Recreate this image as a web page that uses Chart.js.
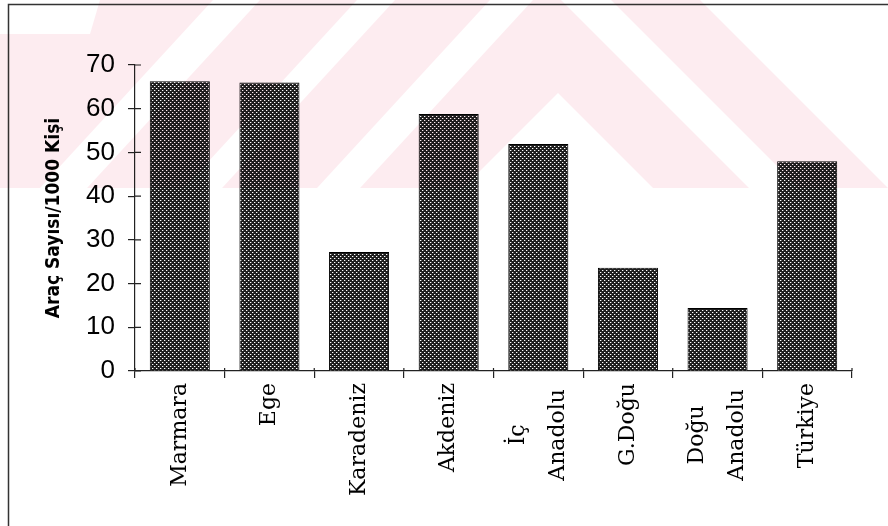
<!DOCTYPE html>
<html lang="tr">
<head>
<meta charset="UTF-8">
<title>Araç Sayısı / 1000 Kişi</title>
<style>
  html, body { margin: 0; padding: 0; background: #fff; }
  #wrap { width: 888px; height: 526px; }
</style>
</head>
<body>
<div id="wrap"><canvas id="myChart"></canvas></div>

<script src="https://cdn.jsdelivr.net/npm/chart.js"></script>
<script>
// bölgeler ve 1000 kişiye düşen araç sayısı
const regions = ['Marmara', 'Ege', 'Karadeniz', 'Akdeniz', ['İç', 'Anadolu'], 'G.Doğu', ['Doğu', 'Anadolu'], 'Türkiye'];
const carsPer1000 = [66.3, 66.0, 27.2, 58.8, 51.9, 23.6, 14.4, 48.0];
const yTicks = [0, 10, 20, 30, 40, 50, 60, 70];
const yTitle = 'Araç Sayısı/1000 Kişi';

// noktalı (tarama) çubuk dolgusu
function dotPattern() {
  const c = document.createElement('canvas');
  c.width = 4; c.height = 4;
  const g = c.getContext('2d');
  g.fillStyle = '#1e1e1e';
  g.fillRect(0, 0, 4, 4);
  g.fillStyle = '#ffffff';
  g.fillRect(0, 0, 1, 1);
  g.fillRect(2, 2, 1, 1);
  g.fillStyle = '#666666';
  g.fillRect(1, 0, 1, 1);
  g.fillRect(3, 2, 1, 1);
  return g.createPattern(c, 'repeat');
}

// sayfa çerçevesi
const framePlugin = {
  id: 'frame',
  beforeDraw(chart) {
    const ctx = chart.ctx;
    ctx.save();
    ctx.fillStyle = '#fff';
    ctx.fillRect(0, 0, chart.width, chart.height);
    ctx.strokeStyle = '#333';
    ctx.lineWidth = 1.5;
    ctx.beginPath();
    ctx.moveTo(8.5, chart.height);
    ctx.lineTo(8.5, 4.5);
    ctx.lineTo(chart.width, 4.5);
    ctx.stroke();
    ctx.restore();
  }
};

// iki satırlı etiketleri satır satır ayırıp kategori ortasına ve birbirine göre ortala
const centerMultiLine = {
  id: 'centerMultiLine',
  beforeDraw(chart) {
    const xs = chart.scales.x;
    const items = xs.getLabelItems();
    if (items._split) return;
    items._split = true;
    const c = chart.ctx;
    const out = [];
    items.forEach(it => {
      if (!Array.isArray(it.label)) { out.push(it); return; }
      c.save();
      c.font = it.font.string;
      const widths = it.label.map(s => c.measureText(s).width);
      c.restore();
      const wMax = Math.max(...widths);
      const lh = it.font.lineHeight;
      const n = it.label.length;
      const [tx, ty] = it.options.translation;
      it.label.forEach((line, i) => {
        out.push(Object.assign({}, it, {
          label: line,
          options: Object.assign({}, it.options, {
            translation: [tx - lh * (n - 1) / 2 + i * lh, ty + (wMax - widths[i]) / 2 + 6]
          })
        }));
      });
    });
    items.length = 0;
    out.forEach(o => items.push(o));
  }
};

// eksenleri kesen kısa çizgiler (içeri taşan kısım)
const crossTicks = {
  id: 'crossTicks',
  afterDraw(chart) {
    const ctx = chart.ctx;
    const xs = chart.scales.x, ys = chart.scales.y;
    const area = chart.chartArea;
    ctx.save();
    ctx.strokeStyle = '#222';
    ctx.lineWidth = 1.2;
    ctx.beginPath();
    ys.ticks.forEach((t, i) => {
      const py = ys.getPixelForTick(i);
      ctx.moveTo(area.left, py);
      ctx.lineTo(area.left + 6, py);
    });
    const half = (xs.getPixelForValue(1) - xs.getPixelForValue(0)) / 2;
    for (let i = 0; i <= regions.length; i++) {
      const px = xs.getPixelForValue(i) - half;
      ctx.moveTo(px, area.bottom);
      ctx.lineTo(px, area.bottom - 3);
    }
    ctx.stroke();
    ctx.restore();
  }
};

// taranmış sayfadaki pembe filigran
const watermark = {
  id: 'watermark',
  afterDraw(chart) {
    const h = 188, w = chart.width, k = 0.92;
    const off = document.createElement('canvas');
    off.width = w; off.height = h;
    const o = off.getContext('2d');
    o.fillStyle = 'rgb(253,236,240)';
    o.fillRect(0, 0, w, h);
    o.globalCompositeOperation = 'destination-out';
    const slash = (a, b) => [[a, 0], [b, 0], [b - k * h, h], [a - k * h, h]];
    const shapes = [
      [[0, 0], [100, 0], [90, 34], [0, 34]],
      slash(213, 260),
      slash(357, 395),
      slash(490, 533),
      [[558, 93], [463, h], [653, h]],
      [[561, 0], [611, 0], [611 + h, h], [561 + h, h]],
      [[700, 0], [w, 0], [w, h]]
    ];
    shapes.forEach(p => {
      o.beginPath();
      p.forEach(([x, y], i) => i ? o.lineTo(x, y) : o.moveTo(x, y));
      o.closePath();
      o.fill();
    });
    const ctx = chart.ctx;
    ctx.save();
    ctx.globalCompositeOperation = 'multiply';
    ctx.drawImage(off, 0, 0);
    ctx.restore();
  }
};

const ctx = document.getElementById('myChart');

new Chart(ctx, {
  type: 'bar',
  data: {
    labels: regions,
    datasets: [{
      data: carsPer1000,
      backgroundColor: dotPattern(),
      borderColor: '#000',
      borderWidth: 1,
      borderSkipped: 'bottom',
      categoryPercentage: 1,
      barPercentage: 0.67
    }]
  },
  options: {
    responsive: true,
    maintainAspectRatio: false,
    animation: false,
    layout: { padding: { left: 10, top: 65, right: 36, bottom: 0 } },
    plugins: {
      legend: { display: false },
      tooltip: { enabled: false }
    },
    scales: {
      x: {
        border: { display: true, color: '#222', width: 1.2 },
        grid: { display: true, drawOnChartArea: false, tickLength: 7, color: '#222', lineWidth: 1.2 },
        ticks: {
          color: '#000',
          padding: 5,
          autoSkip: false,
          maxRotation: 90,
          minRotation: 90,
          font: { family: "'DejaVu Serif', 'Liberation Serif', serif", size: 22, lineHeight: 1.8 }
        },
        afterFit(scale) { scale.height = 155; }
      },
      y: {
        min: 0,
        max: 70,
        afterBuildTicks(scale) { scale.ticks = yTicks.map(v => ({ value: v })); },
        border: { display: true, color: '#222', width: 1.2 },
        grid: { display: true, drawOnChartArea: false, tickLength: 7, color: '#222', lineWidth: 1.2 },
        ticks: {
          color: '#000',
          padding: 13,
          font: { family: "'Liberation Sans', Arial, sans-serif", size: 26 }
        },
        title: {
          display: true,
          text: yTitle,
          color: '#000',
          padding: { top: 33, bottom: 0 },
          font: { family: "'DejaVu Sans Condensed', 'DejaVu Sans', sans-serif", size: 19, weight: 'bold', lineHeight: 1.2 }
        },
        afterFit(scale) { scale.width = 125; }
      }
    }
  },
  plugins: [framePlugin, centerMultiLine, crossTicks, watermark]
});
</script>
</body>
</html>
